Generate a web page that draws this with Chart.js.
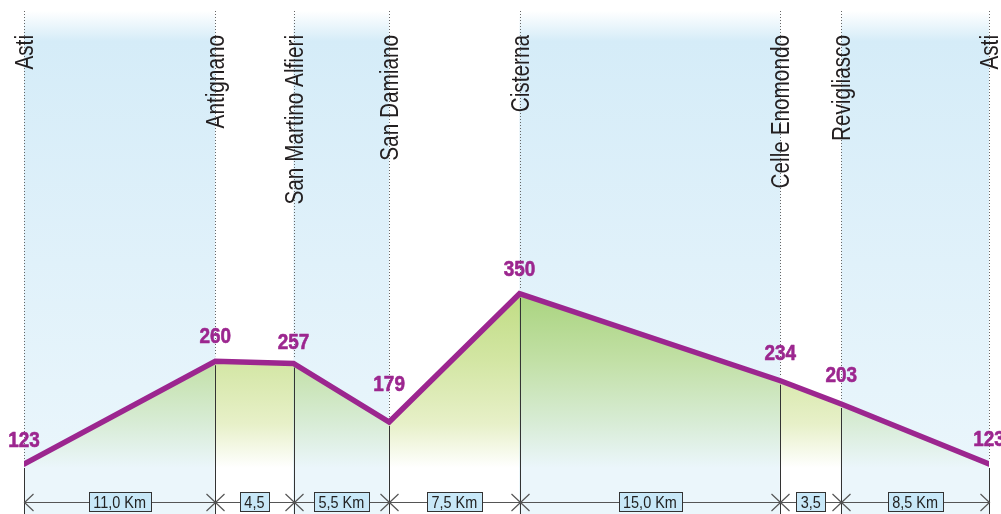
<!DOCTYPE html>
<html><head><meta charset="utf-8">
<script src="https://cdn.jsdelivr.net/npm/chart.js@4.4.1/dist/chart.umd.min.js"></script>
<style>html,body{margin:0;padding:0;background:#fff;overflow:hidden}</style>
</head><body>
<canvas id="c" width="1001" height="514"></canvas>
<script>
// ---- data ----
const places = ["Asti","Antignano","San Martino Alfieri","San Damiano","Cisterna","Celle Enomondo","Revigliasco","Asti"];
const altitudes = [123,260,257,179,350,234,203,123];
const segmentKm = [11.0,4.5,5.5,7.5,15.0,3.5,8.5];
const segmentLabels = ["11,0 Km","4,5","5,5 Km","7,5 Km","15,0 Km","3,5","8,5 Km"];
const shadedSegments = [true,false,true,false,true,false,true];
// ---- style ----
const valueLabelGap = [17,18,14,31,18,21,22,18];

const cumKm = segmentKm.reduce((acc,d)=>{acc.push(acc[acc.length-1]+d);return acc;},[0]);
const points = cumKm.map((k,i)=>({x:k,y:altitudes[i]}));

function condensedText(ctx, text, x, y, font, sx, align, baseline, color, rotate, strokeW){
  ctx.save();
  ctx.translate(x,y);
  if(rotate) ctx.rotate(-Math.PI/2);
  ctx.scale(sx,1);
  ctx.font = font; ctx.fillStyle = color; ctx.textAlign = align; ctx.textBaseline = baseline;
  ctx.fillText(text,0,0);
  if(strokeW){ ctx.strokeStyle = color; ctx.lineWidth = strokeW; ctx.lineJoin='round'; ctx.strokeText(text,0,0); }
  ctx.restore();
}

const profilePlugin = {
  id:'profile',
  beforeDatasetsDraw(chart){
    const {ctx, chartArea, scales:{x}} = chart;
    const pts = chart.getDatasetMeta(0).data;
    const top = chartArea.top, bottom = chart.height;
    ctx.save();
    // background bands
    for(let i=0;i<segmentKm.length;i++){
      if(!shadedSegments[i]) continue;
      const x0 = x.getPixelForValue(cumKm[i]), x1 = x.getPixelForValue(cumKm[i+1]);
      const g = ctx.createLinearGradient(0,top,0,bottom);
      g.addColorStop(0,'#ffffff'); g.addColorStop(0.06,'#d5ecf8');
      g.addColorStop(0.5,'#e0f1fa'); g.addColorStop(1,'#ecf7fc');
      ctx.fillStyle = g; ctx.fillRect(x0,top,x1-x0,bottom-top);
    }
    // fill under profile
    ctx.save();
    ctx.beginPath();
    ctx.moveTo(pts[0].x,bottom);
    pts.forEach(p=>ctx.lineTo(p.x,p.y));
    ctx.lineTo(pts[pts.length-1].x,bottom);
    ctx.closePath();
    ctx.clip();
    for(let i=0;i<segmentKm.length;i++){
      const x0 = pts[i].x, x1 = pts[i+1].x;
      const g = ctx.createLinearGradient(0,290,0,468);
      if(shadedSegments[i]){
        g.addColorStop(0,'#a8d37c'); g.addColorStop(0.4,'#c2e0a6');
        g.addColorStop(0.75,'#d8ecd6'); g.addColorStop(1,'#ebf6fb');
      } else {
        g.addColorStop(0,'#bfdc82'); g.addColorStop(0.4,'#d3e6a4');
        g.addColorStop(0.75,'#e7f0c8'); g.addColorStop(1,'#ffffff');
      }
      ctx.fillStyle = g; ctx.fillRect(x0-0.5,0,x1-x0+1,bottom);
    }
    ctx.restore();
    // dotted guide lines and solid drop lines
    pts.forEach(p=>{
      const px = Math.round(p.x)+0.5;
      ctx.beginPath(); ctx.setLineDash([1,2]); ctx.strokeStyle='#666'; ctx.lineWidth=1;
      ctx.moveTo(px,top); ctx.lineTo(px,p.y-5); ctx.stroke();
      ctx.beginPath(); ctx.setLineDash([]); ctx.strokeStyle='#333'; ctx.lineWidth=1;
      ctx.moveTo(px,p.y+4); ctx.lineTo(px,bottom); ctx.stroke();
    });
    // distance dimension line
    const dy = 502.5;
    const xs = pts.map(p=>Math.round(p.x)+0.5);
    ctx.strokeStyle='#555'; ctx.lineWidth=1.2;
    ctx.beginPath(); ctx.moveTo(xs[0],dy); ctx.lineTo(xs[xs.length-1],dy); ctx.stroke();
    xs.forEach((px,i)=>{
      ctx.beginPath();
      if(i===0){ ctx.moveTo(px+9,dy-8.5); ctx.lineTo(px,dy); ctx.lineTo(px+9,dy+8.5); }
      else if(i===xs.length-1){ ctx.moveTo(px-9,dy-8.5); ctx.lineTo(px,dy); ctx.lineTo(px-9,dy+8.5); }
      else { ctx.moveTo(px-9,dy-8.5); ctx.lineTo(px+9,dy+8.5); ctx.moveTo(px-9,dy+8.5); ctx.lineTo(px+9,dy-8.5); }
      ctx.stroke();
    });
    // segment boxes
    segmentLabels.forEach((lab,i)=>{
      const cx = (pts[i].x+pts[i+1].x)/2;
      ctx.font = '17px "Liberation Sans", Arial, sans-serif';
      const w = ctx.measureText(lab).width*0.85 + 9;
      const bx = Math.round(cx-w/2)+0.5, by = 492.5, bh = 19;
      ctx.fillStyle='#c8e8f8'; ctx.fillRect(bx,by,Math.round(w),bh);
      ctx.strokeStyle='#333'; ctx.lineWidth=1; ctx.strokeRect(bx,by,Math.round(w),bh);
      condensedText(ctx,lab,cx,by+bh/2+1,'17px "Liberation Sans", Arial, sans-serif',0.85,'center','middle','#222',false,0);
    });
    ctx.restore();
  },
  afterDatasetsDraw(chart){
    const {ctx} = chart;
    const pts = chart.getDatasetMeta(0).data;
    pts.forEach((p,i)=>{
      condensedText(ctx,String(altitudes[i]),p.x,p.y-valueLabelGap[i],'bold 22px "Liberation Sans", Arial, sans-serif',0.86,'center','alphabetic','#9c268f',false,0.6);
      condensedText(ctx,places[i],p.x+9,35,'25px "Liberation Sans", Arial, sans-serif',0.83,'right','alphabetic','#231f20',true,0);
    });
  }
};

new Chart(document.getElementById('c'),{
  type:'line',
  data:{datasets:[{
    data:points,
    borderColor:'#9c268f',
    borderWidth:5.5,
    borderCapStyle:'round',
    borderJoinStyle:'miter',
    pointRadius:0,
    tension:0,
    fill:false
  }]},
  options:{
    responsive:false,
    animation:false,
    devicePixelRatio:1,
    layout:{padding:{left:24,right:12,top:11,bottom:0}},
    plugins:{legend:{display:false},tooltip:{enabled:false}},
    scales:{
      x:{type:'linear',min:0,max:cumKm[cumKm.length-1],display:false},
      y:{type:'linear',min:56.33,max:727,display:false}
    }
  },
  plugins:[profilePlugin]
});
</script>
</body></html>
